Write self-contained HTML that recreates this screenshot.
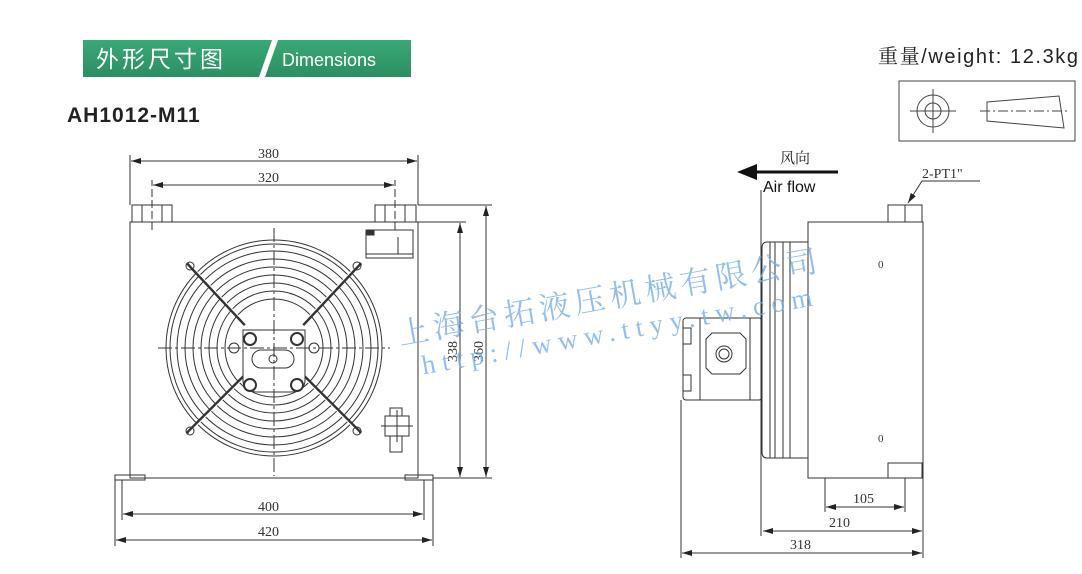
<!DOCTYPE html>
<html><head><meta charset="utf-8"><style>
html,body{margin:0;padding:0;background:#fff;width:1082px;height:574px;overflow:hidden}
svg{display:block}
</style></head><body>
<svg width="1082" height="574" viewBox="0 0 1082 574" xmlns="http://www.w3.org/2000/svg" font-family="Liberation Sans, sans-serif">
<defs>
<linearGradient id="g" x1="0" y1="0" x2="0" y2="1"><stop offset="0" stop-color="#3aa878"/><stop offset="1" stop-color="#2b8f60"/></linearGradient>
<marker id="a" viewBox="0 0 10 6" refX="10" refY="3" markerWidth="10" markerHeight="6" orient="auto-start-reverse"><path d="M0,0L10,3L0,6z" fill="#222"/></marker>
</defs>
<rect x="83" y="40" width="328" height="37" fill="url(#g)"/>
<polygon points="259,77 265,77 278,40 272,40" fill="#fff"/>
<text x="96" y="67" font-size="23" fill="#fff" font-family="Liberation Sans, Noto Sans CJK SC, sans-serif" letter-spacing="3">外形尺寸图</text>
<text x="282" y="66" font-size="18" fill="#fff">Dimensions</text>
<text x="67" y="122" font-size="21" font-weight="bold" fill="#222" letter-spacing="1">AH1012-M11</text>
<text x="878" y="63" font-size="20" fill="#222" font-family="Liberation Sans, Noto Serif CJK SC, sans-serif" textLength="200">重量/weight: 12.3kg</text>
<g stroke="#444" fill="none" stroke-width="1">
<rect x="899" y="81" width="176" height="60"/>
<circle cx="933" cy="111" r="16"/><circle cx="933" cy="111" r="8"/>
<line x1="910" y1="111" x2="956" y2="111"/><line x1="933" y1="89" x2="933" y2="133"/>
<polygon points="987,102 1059,96 1064,128 987,121"/>
<line x1="980" y1="111" x2="1068" y2="111" stroke-dasharray="10,3,2,3"/>
</g>

<g stroke="#333" fill="none" stroke-width="1">
<rect x="130" y="222" width="288" height="256"/>
<rect x="132" y="205" width="40" height="17"/><rect x="375" y="205" width="41" height="17"/>
<line x1="142" y1="205" x2="142" y2="222"/><line x1="162" y1="205" x2="162" y2="222"/>
<line x1="385" y1="205" x2="385" y2="222"/><line x1="405" y1="205" x2="405" y2="222"/>
<rect x="115" y="475" width="30" height="5"/><rect x="405" y="475" width="28" height="5"/>
<line x1="130" y1="205" x2="130" y2="155"/><line x1="418" y1="205" x2="418" y2="155"/>
<line x1="131" y1="161" x2="417" y2="161" marker-start="url(#a)" marker-end="url(#a)"/>
<line x1="152" y1="230" x2="152" y2="180" stroke-dasharray="8,3"/><line x1="395" y1="230" x2="395" y2="180" stroke-dasharray="8,3"/>
<line x1="153" y1="185" x2="394" y2="185" marker-start="url(#a)" marker-end="url(#a)"/>
<line x1="418" y1="205" x2="492" y2="205"/><line x1="418" y1="222" x2="466" y2="222"/><line x1="433" y1="478" x2="492" y2="478"/>
<line x1="460" y1="223" x2="460" y2="477" marker-start="url(#a)" marker-end="url(#a)"/>
<line x1="486" y1="206" x2="486" y2="477" marker-start="url(#a)" marker-end="url(#a)"/>
<line x1="122" y1="480" x2="122" y2="520"/><line x1="424" y1="480" x2="424" y2="520"/>
<line x1="115" y1="480" x2="115" y2="546"/><line x1="433" y1="480" x2="433" y2="546"/>
<line x1="123" y1="514" x2="423" y2="514" marker-start="url(#a)" marker-end="url(#a)"/>
<line x1="116" y1="540" x2="432" y2="540" marker-start="url(#a)" marker-end="url(#a)"/>
<circle cx="274" cy="348" r="108"/><circle cx="274" cy="348" r="104"/>
<circle cx="274" cy="348" r="97"/><circle cx="274" cy="348" r="89"/><circle cx="274" cy="348" r="81"/>
<circle cx="274" cy="348" r="73"/><circle cx="274" cy="348" r="65"/><circle cx="274" cy="348" r="57"/><circle cx="274" cy="348" r="49"/>
<line x1="187" y1="263" x2="245" y2="325" stroke-width="3"/><line x1="361" y1="263" x2="303" y2="325" stroke-width="3"/>
<line x1="187" y1="433" x2="245" y2="375" stroke-width="3"/><line x1="361" y1="433" x2="303" y2="375" stroke-width="3"/>
<line x1="189" y1="263" x2="247" y2="325" stroke="#fff"/><line x1="359" y1="263" x2="301" y2="325" stroke="#fff"/>
<line x1="189" y1="433" x2="247" y2="375" stroke="#fff"/><line x1="359" y1="433" x2="301" y2="375" stroke="#fff"/>
<circle cx="190" cy="266" r="4"/><circle cx="357" cy="266" r="4"/><circle cx="190" cy="431" r="4"/><circle cx="357" cy="431" r="4"/>
<path d="M243,330 L305,330 L305,380 Q305,392 290,392 L258,392 Q243,392 243,380 Z" fill="#fff"/>
<circle cx="250" cy="339" r="6" stroke-width="2" fill="#fff"/><circle cx="297" cy="339" r="6" stroke-width="2" fill="#fff"/>
<circle cx="250" cy="385" r="6" stroke-width="2" fill="#fff"/><circle cx="297" cy="385" r="6" stroke-width="2" fill="#fff"/>
<circle cx="234" cy="348" r="5"/><circle cx="314" cy="348" r="5"/>
<rect x="252" y="350" width="42" height="18" rx="9"/><circle cx="273" cy="359" r="4"/>
<line x1="158" y1="348" x2="390" y2="348" stroke-dasharray="14,3,3,3"/>
<line x1="274" y1="228" x2="274" y2="476" stroke-dasharray="14,3,3,3"/>
<rect x="366" y="230" width="47" height="28"/><line x1="366" y1="254" x2="413" y2="254"/><line x1="398" y1="237" x2="398" y2="254"/>
<rect x="367" y="231" width="7" height="4" fill="#333"/>
<rect x="385" y="416" width="24" height="20"/><rect x="390" y="408" width="12" height="8"/><rect x="390" y="436" width="12" height="16"/>
<line x1="381" y1="426" x2="413" y2="426"/><line x1="397" y1="410" x2="397" y2="442"/>
</g>
<g font-size="14" fill="#333" font-family="Liberation Serif, serif">
<text x="258" y="158">380</text><text x="258" y="182">320</text>
<text x="258" y="511">400</text><text x="258" y="536">420</text>
<text transform="translate(457,362) rotate(-90)">338</text>
<text transform="translate(483,362) rotate(-90)">360</text>
</g>

<g stroke="#333" fill="none" stroke-width="1">
<rect x="808" y="222" width="115" height="256"/>
<rect x="888" y="205" width="34" height="17"/><line x1="905" y1="205" x2="905" y2="222"/>
<rect x="888" y="463" width="34" height="15"/>
<path d="M808,242 L767,242 Q762,242 762,248 L762,452 Q762,458 767,458 L808,458"/>
<line x1="770" y1="242" x2="770" y2="458"/><line x1="775" y1="242" x2="775" y2="458"/><line x1="783" y1="242" x2="783" y2="458"/><line x1="790" y1="242" x2="790" y2="458"/>
<rect x="683" y="318" width="79" height="82" rx="3"/>
<line x1="700" y1="318" x2="700" y2="400"/><line x1="750" y1="318" x2="750" y2="400"/>
<path d="M712,333 L740,333 L746,339 L746,368 L740,374 L712,374 L706,368 L706,339 Z"/>
<circle cx="724" cy="354" r="8"/><circle cx="724" cy="354" r="5"/>
<rect x="683" y="328" width="8" height="16"/><rect x="683" y="375" width="8" height="16"/>
<line x1="761" y1="190" x2="761" y2="536"/>
<line x1="681" y1="400" x2="681" y2="558"/><line x1="923" y1="478" x2="923" y2="558"/>
<line x1="825" y1="478" x2="825" y2="512"/><line x1="905" y1="478" x2="905" y2="512"/>
<line x1="826" y1="507" x2="904" y2="507" marker-start="url(#a)" marker-end="url(#a)"/>
<line x1="763" y1="531" x2="922" y2="531" marker-start="url(#a)" marker-end="url(#a)"/>
<line x1="682" y1="553" x2="922" y2="553" marker-start="url(#a)" marker-end="url(#a)"/>
<line x1="922" y1="181" x2="908" y2="203" marker-end="url(#a)"/><line x1="922" y1="181" x2="980" y2="181"/>
</g>
<line x1="748" y1="172" x2="838" y2="172" stroke="#111" stroke-width="3"/>
<polygon points="737,172 757,164 757,180" fill="#111"/>
<text x="780" y="163" font-size="15" fill="#222" font-family="Liberation Serif, Noto Serif CJK SC, serif">风向</text>
<text x="763" y="192" font-size="16" fill="#111">Air flow</text>
<g font-size="14" fill="#333" font-family="Liberation Serif, serif">
<text x="922" y="178">2-PT1"</text>
<text x="853" y="503">105</text><text x="829" y="527">210</text><text x="790" y="549">318</text>
<text x="878" y="268" font-size="11">0</text><text x="878" y="442" font-size="11">0</text>
</g>
<g fill="#7aaee6" opacity="0.8" transform="rotate(-10 400 345)">
<text x="400" y="345" font-size="31" font-family="Noto Serif CJK SC, serif" textLength="425">上海台拓液压机械有限公司</text>
<text x="418" y="378" font-size="27" font-family="Liberation Serif, serif" textLength="400" letter-spacing="4">http://www.ttyy.tw.com</text>
</g>
</svg>
</body></html>
